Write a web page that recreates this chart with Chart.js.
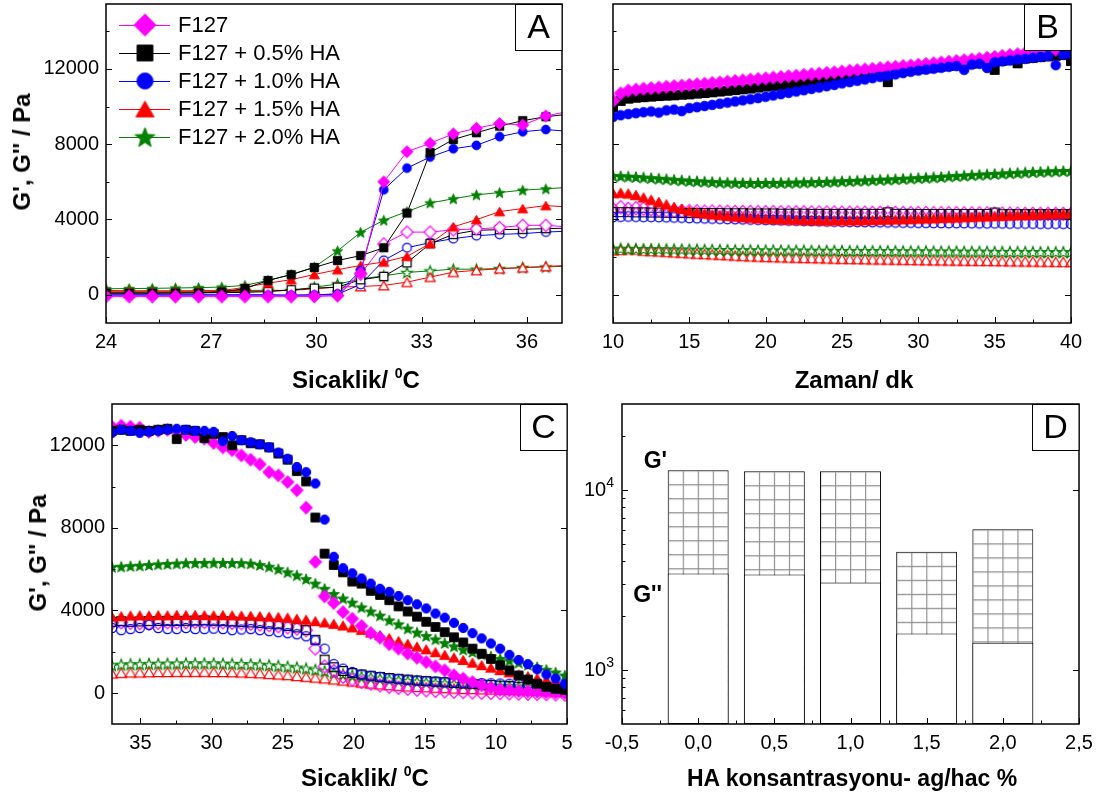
<!DOCTYPE html>
<html><head><meta charset="utf-8">
<script src="https://cdn.jsdelivr.net/npm/chart.js@4.4.1/dist/chart.umd.min.js"></script>
<style>
html,body{margin:0;padding:0;background:#fff;}
body{width:1101px;height:798px;position:relative;overflow:hidden;font-family:"Liberation Sans",Arial,sans-serif;color:#000;}
canvas{position:absolute;display:block;}
.xt{position:absolute;font-weight:bold;font-size:24px;line-height:1;white-space:nowrap;transform:translate(-50%,-50%);}
.yt{position:absolute;font-weight:bold;font-size:24px;line-height:1;white-space:nowrap;transform:translate(-50%,-50%) rotate(-90deg);}
.sup{font-size:14px;position:relative;top:-10px;}
</style></head>
<body>
<canvas id="cA" width="575" height="400" style="left:0;top:0"></canvas>
<canvas id="cB" width="526" height="400" style="left:575px;top:0"></canvas>
<canvas id="cC" width="575" height="398" style="left:0;top:400px"></canvas>
<canvas id="cD" width="526" height="398" style="left:575px;top:400px"></canvas>
<div class="xt" style="left:356px;top:380px">Sicaklik/ <span class="sup">0</span>C</div>
<div class="xt" style="left:854px;top:380px">Zaman/ dk</div>
<div class="xt" style="left:365px;top:778px">Sicaklik/ <span class="sup">0</span>C</div>
<div class="xt" style="left:852px;top:778px;font-size:23px">HA konsantrasyonu- ag/hac %</div>
<div class="yt" style="left:22px;top:152px">G', G'' / Pa</div>
<div class="yt" style="left:38px;top:553px">G', G'' / Pa</div>
<script>
// ---------------- DATA ----------------
const LEGEND_LABELS = ['F127', 'F127 + 0.5% HA', 'F127 + 1.0% HA', 'F127 + 1.5% HA', 'F127 + 2.0% HA'];

// Panel A: temperature sweep (heating)
const A_X = [24.00,24.66,25.32,25.98,26.64,27.30,27.96,28.62,29.28,29.94,30.60,31.26,31.92,32.58,33.24,33.90,34.56,35.22,35.88,36.54,37.20];
const A_F127_GP = [-60,-60,-60,-60,-60,-60,-60,-60,-60,-60,-40,1150,6000,7600,8050,8550,8850,9100,9020,9500,9750];
const A_05_GP   = [80,80,80,90,100,150,330,760,1070,1450,1820,2080,2500,4340,7560,8250,8610,8960,9250,9460,9600];
const A_10_GP   = [-20,-20,-20,-20,-20,-20,-20,-20,-20,-10,50,1280,5580,6730,7320,7760,7940,8400,8660,8780,8680];
const A_15_GP   = [230,200,200,200,200,210,400,620,800,1080,1330,1560,1740,2040,2720,3610,3990,4420,4580,4740,4660];
const A_20_GP   = [320,330,340,360,380,410,500,760,1080,1470,2330,3320,3960,4420,4880,5100,5310,5430,5560,5630,5710];
const A_F127_GPP= [-100,-100,-100,-100,-100,-100,-100,-100,-100,-90,-50,1100,2700,3330,3330,3450,3500,3570,3690,3690,3600];
const A_05_GPP  = [100,100,100,100,100,110,130,170,265,350,405,800,975,1700,2715,3210,3425,3460,3480,3515,3540];
const A_10_GPP  = [0,0,0,0,0,0,0,0,-30,0,30,550,1830,2500,2770,2980,3140,3210,3250,3335,3380];
const A_15_GPP  = [150,150,150,150,160,170,180,200,230,320,405,440,495,670,940,1200,1300,1385,1440,1510,1560];
const A_20_GPP  = [200,200,200,200,210,220,230,240,230,400,570,835,1010,1185,1270,1360,1360,1395,1450,1480,1520];
const A_XTICKS = [24,27,30,33,36];
const A_YTICKS = [0,4000,8000,12000];

// Panel B: time sweep
const B_X = [10,10.5,11,11.5,12,12.5,13,13.5,14,14.5,15,15.5,16,16.5,17,17.5,18,18.5,19,19.5,20,20.5,21,21.5,22,22.5,23,23.5,24,24.5,25,25.5,26,26.5,27,27.5,28,28.5,29,29.5,30,30.5,31,31.5,32,32.5,33,33.5,34,34.5,35,35.5,36,36.5,37,37.5,38,38.5,39,39.5,40];
const B_F127_GP = [10300,10700,10850,10900,10950,10980,11010,11050,11080,11110,11150,11180,11210,11250,11280,11320,11360,11390,11430,11460,11500,11540,11570,11610,11640,11680,11720,11750,11790,11820,11860,11900,11930,11970,12000,12040,12080,12110,12150,12180,12220,12260,12300,12340,12380,12420,12460,12500,12540,12590,12640,12690,12740,12780,12830,12880,12930,12980,13030,13080,13130];
const B_05_GP = [9950,10300,10420,10470,10500,10530,10560,10580,10600,10630,10650,10690,10720,10760,10800,10840,10880,10920,10960,11010,11060,11100,11140,11190,11230,11280,11320,11370,11410,11460,11500,11550,11600,11650,11700,11750,11300,11840,11890,11940,11990,12030,12080,12120,12160,12200,12240,12280,12320,12360,11950,12430,12470,12300,12550,12590,12630,12670,12700,12740,12420];
const B_10_GP = [9450,9540,9600,9650,9700,9740,9680,9800,9840,9760,9920,9970,10030,10090,10150,10210,10270,10330,10390,10450,10520,10590,10660,10730,10800,10870,10940,11010,11080,11150,11230,11300,11370,11440,11510,11580,11640,11710,11780,11850,11910,11960,12010,12060,12110,12150,11950,12230,12270,12050,12350,12400,12450,12500,12540,12590,12640,12680,12200,12760,12800];
const B_15_GP = [5400,5420,5380,5300,5170,5050,4930,4800,4670,4560,4460,4380,4320,4270,4230,4190,4150,4120,4090,4060,4040,4020,4000,3990,3980,3970,3960,3960,3950,3950,3950,3950,3960,3960,3970,3980,3990,4000,4010,4020,4040,4050,4060,4080,4090,4100,4120,4130,4150,4160,4180,4190,4210,4230,4240,4260,4270,4290,4300,4310,4320];
const B_20_GP = [6320,6300,6280,6260,6230,6200,6170,6140,6110,6080,6050,6030,6010,5990,5970,5960,5950,5940,5940,5940,5940,5940,5950,5950,5960,5970,5980,5990,6000,6010,6030,6040,6060,6070,6090,6110,6120,6140,6160,6180,6200,6220,6240,6260,6290,6310,6330,6360,6380,6400,6420,6440,6460,6480,6500,6520,6530,6550,6560,6570,6580];
const B_F127_GPP = [4550,4650,4560,4600,4580,4540,4500,4480,4460,4450,4440,4430,4420,4420,4410,4410,4400,4400,4400,4390,4390,4390,4380,4380,4380,4380,4370,4370,4370,4370,4360,4360,4360,4360,4350,4350,4370,4350,4340,4340,4340,4340,4330,4330,4330,4330,4320,4320,4320,4320,4310,4310,4310,4310,4300,4300,4300,4300,4300,4300,4300];
const B_05_GPP = [4400,4390,4390,4380,4380,4370,4370,4360,4360,4350,4350,4350,4340,4340,4340,4330,4330,4330,4320,4320,4320,4320,4310,4310,4310,4310,4300,4300,4300,4300,4300,4300,4300,4300,4300,4300,4380,4300,4300,4300,4290,4290,4290,4290,4290,4290,4290,4290,4290,4290,4370,4280,4280,4280,4280,4280,4280,4280,4280,4280,4280];
const B_10_GPP = [4130,4150,4160,4150,4140,4140,4130,4120,4110,4100,4080,4070,4060,4050,4040,4030,4020,4010,4000,3990,3980,3970,3960,3950,3940,3930,3920,3910,3900,3890,3880,3875,3870,3865,3860,3855,3850,3845,3840,3835,3830,3825,3820,3815,3810,3810,3810,3805,3800,3800,3800,3795,3790,3790,3790,3785,3780,3780,3780,3775,3770];
const B_15_GPP = [2360,2380,2420,2400,2340,2320,2300,2280,2250,2230,2200,2180,2160,2140,2120,2100,2080,2060,2040,2030,2010,2000,1990,1980,1970,1960,1950,1940,1930,1920,1910,1900,1895,1890,1880,1875,1870,1865,1860,1850,1840,1835,1830,1825,1820,1815,1810,1805,1800,1795,1790,1785,1780,1775,1770,1765,1760,1755,1750,1745,1740];
const B_20_GPP = [2450,2450,2440,2440,2430,2430,2420,2420,2410,2410,2400,2400,2390,2390,2380,2380,2370,2370,2370,2360,2360,2360,2350,2350,2350,2350,2340,2340,2340,2340,2330,2330,2330,2330,2320,2320,2320,2320,2310,2310,2310,2310,2300,2300,2300,2300,2290,2290,2290,2290,2280,2280,2280,2280,2280,2270,2270,2270,2270,2270,2270];
const B_XTICKS = [10,15,20,25,30,35,40];

// Panel C: temperature sweep (cooling)
const C_X = [37,36.35,35.7,35.05,34.4,33.75,33.1,32.45,31.8,31.15,30.5,29.85,29.2,28.55,27.9,27.25,26.6,25.95,25.3,24.65,24,23.35,22.7,22.05,21.4,20.75,20.1,19.45,18.8,18.15,17.5,16.85,16.2,15.55,14.9,14.25,13.6,12.95,12.3,11.65,11,10.35,9.7,9.05,8.4,7.75,7.1,6.45,5.8,5.15];
const C_F127_GP = [12900,12950,12900,12850,12650,12700,12750,12700,12500,12400,12320,12110,11900,11760,11510,11300,11080,10700,10540,10220,9820,8980,6350,4680,4360,3920,3600,3250,2910,2680,2360,2150,1910,1710,1500,1290,1100,860,700,530,370,260,160,130,100,80,60,40,20,0];
const C_05_GP = [12700,12750,12700,12750,12700,12750,12800,12300,12750,12700,12350,12550,12400,12000,12250,12100,12050,11900,11600,11300,10750,10250,8500,6750,6200,5850,5400,5300,4950,4750,4500,4200,3950,3700,3450,3200,2950,2700,2450,2150,1900,1650,1350,1100,850,650,450,300,200,150];
const C_10_GP = [12600,12750,12700,12600,12650,12700,12750,12800,12750,12700,12700,12650,12200,12450,12250,12150,12050,11900,11650,11350,10950,10700,10150,8400,6600,6050,5800,5550,5300,5050,4900,4700,4500,4300,4100,3850,3650,3400,3150,2900,2650,2400,2150,1850,1600,1400,1150,900,700,450];
const C_15_GP = [3700,3720,3750,3760,3750,3770,3760,3780,3770,3780,3770,3760,3770,3760,3750,3740,3720,3700,3680,3650,3600,3550,3480,3420,3350,3270,3180,3060,2930,2800,2660,2520,2380,2250,2120,1980,1850,1720,1600,1470,1350,1230,1110,1000,900,810,720,640,560,480];
const C_20_GP = [6100,6120,6150,6170,6200,6230,6250,6270,6290,6300,6300,6310,6300,6300,6290,6270,6200,6120,6000,5850,5700,5520,5300,5050,4800,4580,4380,4150,3950,3750,3520,3330,3120,2930,2760,2600,2420,2260,2100,1990,1870,1770,1660,1570,1470,1370,1260,1130,1000,850];
const C_F127_GPP = [3400,3420,3400,3380,3360,3400,3420,3420,3430,3440,3440,3430,3420,3400,3380,3350,3320,3280,3230,3180,3120,3040,2150,1290,1070,780,650,530,450,370,300,250,200,160,130,100,80,60,40,20,10,0,-10,-20,-30,-40,-50,-60,-70,-80];
const C_05_GPP = [3450,3480,3450,3470,3480,3490,3500,3490,3500,3510,3520,3500,3480,3470,3440,3420,3400,3360,3330,3250,3180,3050,2580,1620,1250,1070,970,900,840,780,730,690,650,610,580,550,520,490,460,440,410,390,360,340,310,280,250,210,170,130];
const C_10_GPP = [3150,3050,3100,3150,3300,3150,3100,3100,3150,3100,3100,3120,3100,3050,3080,3100,3050,3000,2950,2900,2850,2750,2550,2150,1400,1180,1020,900,830,780,720,680,640,610,580,560,540,520,500,490,480,470,460,450,440,430,410,390,360,320];
const C_15_GPP = [950,980,1000,1000,1010,1020,1020,1030,1030,1030,1030,1020,1020,1010,1000,980,960,930,900,870,830,790,750,710,660,610,560,510,460,420,380,350,320,300,280,260,240,220,200,190,180,170,160,150,140,130,110,90,70,50];
const C_20_GPP = [1350,1380,1400,1400,1420,1420,1430,1430,1440,1440,1440,1440,1430,1420,1410,1400,1380,1350,1320,1280,1240,1190,1130,1060,990,920,860,800,750,700,660,620,580,550,520,490,470,450,430,410,390,370,350,340,320,300,290,270,250,230];
const C_XTICKS = [35,30,25,20,15,10,5];
const C_YTICKS = [0,4000,8000,12000];

// Panel D: moduli vs HA concentration (log scale)
const D_X   = [0.0, 0.5, 1.0, 1.5, 2.0];
const D_GP  = [12870, 12700, 12700, 4530, 6040];
const D_GPP = [3430, 3390, 3060, 1590, 1415];
const D_XTICKS = [-0.5, 0, 0.5, 1, 1.5, 2, 2.5];
const D_YTICKS = [1000, 10000];

// ---------------- STYLE / HELPERS ----------------
const FONT = '"Liberation Sans", Arial, sans-serif';
Chart.defaults.font.family = FONT;
Chart.defaults.color = '#000';
Chart.defaults.animation = false;
const MAG = '#ff00ff', BLK = '#000000', BLU = '#0000ff', RED = '#ff0000', GRN = '#008000';

function mk(shape, color, filled, s, bg) {
  const size = Math.ceil(2 * 1.15 * s + 4);
  const c = document.createElement('canvas'); c.width = size; c.height = size;
  const g = c.getContext('2d'); const m = size / 2;
  g.beginPath();
  if (shape === 'diamond') { const d = 1.1 * s; g.moveTo(m, m - d); g.lineTo(m + d, m); g.lineTo(m, m + d); g.lineTo(m - d, m); g.closePath(); }
  else if (shape === 'square') { const h = 0.75 * s; g.rect(m - h, m - h, 2 * h, 2 * h); }
  else if (shape === 'circle') { g.arc(m, m, 0.8 * s, 0, 2 * Math.PI); }
  else if (shape === 'triangle') { const r = 1.05 * s; const cy = m + 0.25 * r; g.moveTo(m, cy - r); g.lineTo(m + r * 0.866, cy + r * 0.5); g.lineTo(m - r * 0.866, cy + r * 0.5); g.closePath(); }
  else if (shape === 'star') { const ro = 1.0 * s, ri = 0.42 * s; for (let i = 0; i < 10; i++) { const r = i % 2 ? ri : ro; const a = -Math.PI / 2 + i * Math.PI / 5; const px = m + r * Math.cos(a), py = m + 0.1 * s + r * Math.sin(a); if (i) g.lineTo(px, py); else g.moveTo(px, py); } g.closePath(); }
  if (filled) { g.fillStyle = color; g.fill(); g.lineWidth = 1; g.strokeStyle = color; g.stroke(); }
  else { if (bg) { g.fillStyle = bg; g.fill(); } g.lineWidth = 1.2; g.strokeStyle = color; g.stroke(); }
  return c;
}
const pts = (xs, ys) => xs.map((x, i) => ({ x: x, y: ys[i] }));
function ds(xs, ys, color, marker, line) {
  return { data: pts(xs, ys), borderColor: color, backgroundColor: color, borderWidth: 1,
    showLine: !!line, tension: 0, pointStyle: marker, pointRadius: 5, pointHoverRadius: 5, clip: 0 };
}
function axis(type, min, max, ticks, isX, size, showLabels, fmt, extra) {
  const a = { type: type, min: min, max: max, bounds: 'data', offset: false,
    grid: { display: false, drawTicks: false }, border: { display: false },
    afterFit: s => {
      if (isX) { s.height = size; s.paddingLeft = 0; s.paddingRight = 0; }
      else { s.width = size; s.paddingTop = 0; s.paddingBottom = 0; }
    },
    ticks: { display: showLabels, font: { size: 20 }, color: '#000', padding: 7, autoSkip: false, maxRotation: 0, minRotation: 0,
      callback: fmt || (v => String(v)) } };
  if (ticks) a.afterBuildTicks = s => { s.ticks = ticks.map(v => ({ value: v })); };
  return Object.assign(a, extra || {});
}

// frame, inward ticks, panel letter
const framePlugin = {
  id: 'frame',
  afterDatasetsDraw(chart, args, o) {
    const { ctx, chartArea: a } = chart; const xs = chart.scales.x, ys = chart.scales.y;
    ctx.save(); ctx.strokeStyle = '#000'; ctx.lineWidth = 1;
    ctx.beginPath();
    (o.xMajor || []).forEach(v => { const p = Math.round(xs.getPixelForValue(v)) + 0.5; ctx.moveTo(p, a.bottom); ctx.lineTo(p, a.bottom - 6); });
    (o.xMinor || []).forEach(v => { const p = Math.round(xs.getPixelForValue(v)) + 0.5; ctx.moveTo(p, a.bottom); ctx.lineTo(p, a.bottom - 3.5); });
    (o.yMajor || []).forEach(v => { const p = Math.round(ys.getPixelForValue(v)) + 0.5; ctx.moveTo(a.left, p); ctx.lineTo(a.left + 6, p); ctx.moveTo(a.right, p); ctx.lineTo(a.right - 6, p); });
    (o.yMinor || []).forEach(v => { const p = Math.round(ys.getPixelForValue(v)) + 0.5; ctx.moveTo(a.left, p); ctx.lineTo(a.left + 3.5, p); });
    ctx.stroke();
    ctx.lineWidth = 1.5; ctx.strokeRect(a.left, a.top, a.right - a.left, a.bottom - a.top);
    const bw = 47, bh = 46;
    ctx.fillStyle = '#fff'; ctx.fillRect(a.right - bw, a.top, bw, bh);
    ctx.lineWidth = 1; ctx.strokeRect(a.right - bw + 0.5, a.top + 0.5, bw - 0.5, bh);
    ctx.fillStyle = '#000'; ctx.font = '34px ' + FONT; ctx.textAlign = 'center'; ctx.textBaseline = 'middle';
    ctx.fillText(o.letter, a.right - bw / 2, a.top + bh / 2 + 2);
    ctx.restore();
  }
};

// ---------------- PANEL A ----------------
const SA = 5.5;
const mA = {
  dF: mk('diamond', MAG, true, SA), s5: mk('square', BLK, true, SA), c10: mk('circle', BLU, true, SA), t15: mk('triangle', RED, true, SA), st20: mk('star', GRN, true, SA),
  dFo: mk('diamond', MAG, false, SA, '#fff'), s5o: mk('square', BLK, false, SA, '#fff'), c10o: mk('circle', BLU, false, SA, '#fff'), t15o: mk('triangle', RED, false, SA, '#fff'), st20o: mk('star', GRN, false, SA, '#fff')
};
const legMarkers = [mk('diamond', MAG, true, 10), mk('square', BLK, true, 10.5), mk('circle', BLU, true, 10), mk('triangle', RED, true, 10), mk('star', GRN, true, 10.5)];
const legColors = [MAG, BLK, BLU, RED, GRN];
const legendPlugin = {
  id: 'alegend',
  afterDatasetsDraw(chart) {
    const ctx = chart.ctx; ctx.save();
    LEGEND_LABELS.forEach((lab, i) => {
      const y = 25 + i * 28;
      ctx.strokeStyle = legColors[i]; ctx.lineWidth = 1;
      ctx.beginPath(); ctx.moveTo(119, y + 0.5); ctx.lineTo(170, y + 0.5); ctx.stroke();
      const m = legMarkers[i]; ctx.drawImage(m, 145 - m.width / 2, y - m.height / 2);
      ctx.fillStyle = '#000'; ctx.font = '22px ' + FONT; ctx.textAlign = 'left'; ctx.textBaseline = 'middle';
      ctx.fillText(lab, 178, y + 1);
    });
    ctx.restore();
  }
};
new Chart(document.getElementById('cA'), {
  type: 'scatter',
  data: { datasets: [
    ds(A_X, A_F127_GP, MAG, mA.dF, true), ds(A_X, A_05_GP, BLK, mA.s5, true), ds(A_X, A_10_GP, BLU, mA.c10, true),
    ds(A_X, A_15_GP, RED, mA.t15, true), ds(A_X, A_20_GP, GRN, mA.st20, true),
    ds(A_X, A_F127_GPP, MAG, mA.dFo, true), ds(A_X, A_05_GPP, BLK, mA.s5o, true), ds(A_X, A_10_GPP, BLU, mA.c10o, true),
    ds(A_X, A_15_GPP, RED, mA.t15o, true), ds(A_X, A_20_GPP, GRN, mA.st20o, true)
  ] },
  options: {
    responsive: false, events: [],
    layout: { padding: { left: 0, right: 13, top: 4, bottom: 0 }, autoPadding: false },
    plugins: { legend: { display: false }, tooltip: { enabled: false },
      frame: { letter: 'A', xMajor: A_XTICKS, xMinor: [25.5, 28.5, 31.5, 34.5], yMajor: A_YTICKS, yMinor: [2000, 6000, 10000, 14000] } },
    scales: {
      x: axis('linear', 24, 37, A_XTICKS, true, 77, true),
      y: axis('linear', -1500, 15450, A_YTICKS, false, 106, true)
    }
  },
  plugins: [framePlugin, legendPlugin]
});

// ---------------- PANEL B ----------------
const SB = 6;
new Chart(document.getElementById('cB'), {
  type: 'scatter',
  data: { datasets: [
    ds(B_X, B_10_GP, BLU, mk('circle', BLU, true, SB)),
    ds(B_X, B_F127_GP, MAG, mk('diamond', MAG, true, SB)),
    ds(B_X, B_05_GP, BLK, mk('square', BLK, true, SB)),
    ds(B_X, B_15_GP, RED, mk('triangle', RED, true, SB)),
    ds(B_X, B_20_GP, GRN, mk('star', GRN, true, SB)),
    ds(B_X, B_10_GPP, BLU, mk('circle', BLU, false, SB)),
    ds(B_X, B_05_GPP, BLK, mk('square', BLK, false, SB)),
    ds(B_X, B_F127_GPP, MAG, mk('diamond', MAG, false, SB)),
    ds(B_X, B_20_GPP, GRN, mk('star', GRN, false, SB)),
    ds(B_X, B_15_GPP, RED, mk('triangle', RED, false, SB))
  ] },
  options: {
    responsive: false, events: [],
    layout: { padding: { left: 0, right: 30, top: 4, bottom: 0 }, autoPadding: false },
    plugins: { legend: { display: false }, tooltip: { enabled: false },
      frame: { letter: 'B', xMajor: B_XTICKS, xMinor: [12.5, 17.5, 22.5, 27.5, 32.5, 37.5], yMajor: A_YTICKS, yMinor: [2000, 6000, 10000, 14000] } },
    scales: {
      x: axis('linear', 10, 40, B_XTICKS, true, 77, true),
      y: axis('linear', -1500, 15450, A_YTICKS, false, 38, false)
    }
  },
  plugins: [framePlugin]
});

// ---------------- PANEL C ----------------
const SC = 5.8;
new Chart(document.getElementById('cC'), {
  type: 'scatter',
  data: { datasets: [
    ds(C_X, C_10_GP, BLU, mk('circle', BLU, true, SC)),
    ds(C_X, C_05_GP, BLK, mk('square', BLK, true, SC)),
    ds(C_X, C_F127_GP, MAG, mk('diamond', MAG, true, SC)),
    ds(C_X, C_20_GP, GRN, mk('star', GRN, true, SC)),
    ds(C_X, C_15_GP, RED, mk('triangle', RED, true, SC)),
    ds(C_X, C_10_GPP, BLU, mk('circle', BLU, false, SC)),
    ds(C_X, C_05_GPP, BLK, mk('square', BLK, false, SC)),
    ds(C_X, C_F127_GPP, MAG, mk('diamond', MAG, false, SC)),
    ds(C_X, C_20_GPP, GRN, mk('star', GRN, false, SC)),
    ds(C_X, C_15_GPP, RED, mk('triangle', RED, false, SC))
  ] },
  options: {
    responsive: false, events: [],
    layout: { padding: { left: 0, right: 8, top: 4, bottom: 0 }, autoPadding: false },
    plugins: { legend: { display: false }, tooltip: { enabled: false },
      frame: { letter: 'C', xMajor: C_XTICKS, xMinor: [32.5, 27.5, 22.5, 17.5, 12.5, 7.5], yMajor: C_YTICKS, yMinor: [2000, 6000, 10000] } },
    scales: {
      x: axis('linear', 5, 37, C_XTICKS, true, 74, true, null, { reverse: true }),
      y: axis('linear', -1500, 14000, C_YTICKS, false, 112, true)
    }
  },
  plugins: [framePlugin]
});

// ---------------- PANEL D ----------------
const tile = document.createElement('canvas'); tile.width = 15; tile.height = 14;
(function () { const g = tile.getContext('2d'); g.fillStyle = '#fff'; g.fillRect(0, 0, 15, 14);
  g.strokeStyle = '#8f8f8f'; g.lineWidth = 1.3; g.beginPath(); g.moveTo(0.5, 0); g.lineTo(0.5, 14); g.moveTo(0, 0.5); g.lineTo(15, 0.5); g.stroke(); })();
const dLabels = {
  id: 'dlabels',
  afterDraw(chart) {
    const { ctx, chartArea: a } = chart; const y = chart.scales.y;
    ctx.save(); ctx.fillStyle = '#000'; ctx.textBaseline = 'middle'; ctx.textAlign = 'left';
    D_YTICKS.forEach(v => {
      const py = y.getPixelForValue(v); const ex = String(Math.round(Math.log10(v)));
      ctx.font = '14px ' + FONT; const w2 = ctx.measureText(ex).width;
      ctx.font = '20px ' + FONT; const w1 = ctx.measureText('10').width;
      const xr = a.left - 8;
      ctx.fillText('10', xr - w2 - w1, py + 1);
      ctx.font = '14px ' + FONT; ctx.fillText(ex, xr - w2, py - 7);
    });
    ctx.font = 'bold 23px ' + FONT; ctx.textAlign = 'right';
    ctx.fillText("G'", 92, 62); ctx.fillText("G''", 87, 196);
    ctx.restore();
  }
};
new Chart(document.getElementById('cD'), {
  type: 'bar',
  data: { datasets: [
    { data: pts(D_X, D_GPP), backgroundColor: '#ffffff', borderColor: '#000', borderWidth: 1, borderSkipped: false, grouped: false, order: 0, barPercentage: 0.8, categoryPercentage: 1 },
    { data: pts(D_X, D_GP), borderColor: '#000', borderWidth: 1, borderSkipped: false, grouped: false, order: 1, barPercentage: 0.8, categoryPercentage: 1,
      backgroundColor: (c) => {
        const ch = c.chart;
        if (c.type !== 'data' || !ch.chartArea || !ch.scales.x) return '#ffffff';
        const xs = ch.scales.x, ys = ch.scales.y; const i = c.dataIndex;
        const unit = xs.getPixelForValue(0.5) - xs.getPixelForValue(0);
        const left = xs.getPixelForValue(D_X[i]) - unit * 0.4;
        const top = ys.getPixelForValue(D_GP[i]);
        const p = ch.ctx.createPattern(tile, 'repeat');
        if (p.setTransform) p.setTransform(new DOMMatrix([1, 0, 0, 1, left, top]));
        return p;
      } }
  ] },
  options: {
    responsive: false, events: [],
    layout: { padding: { left: 0, right: 22, top: 4, bottom: 0 }, autoPadding: false },
    plugins: { legend: { display: false }, tooltip: { enabled: false },
      frame: { letter: 'D', xMajor: D_XTICKS, xMinor: [-0.25, 0.25, 0.75, 1.25, 1.75, 2.25], yMajor: D_YTICKS, yMinor: [600, 700, 800, 900, 2000, 3000, 4000, 5000, 6000, 7000, 8000, 9000, 20000] } },
    scales: {
      x: axis('linear', -0.5, 2.5, D_XTICKS, true, 74, true, v => v.toFixed(1).replace('.', ',')),
      y: axis('logarithmic', 500, 30000, null, false, 47, false)
    }
  },
  plugins: [framePlugin, dLabels]
});
</script>
</body></html>
